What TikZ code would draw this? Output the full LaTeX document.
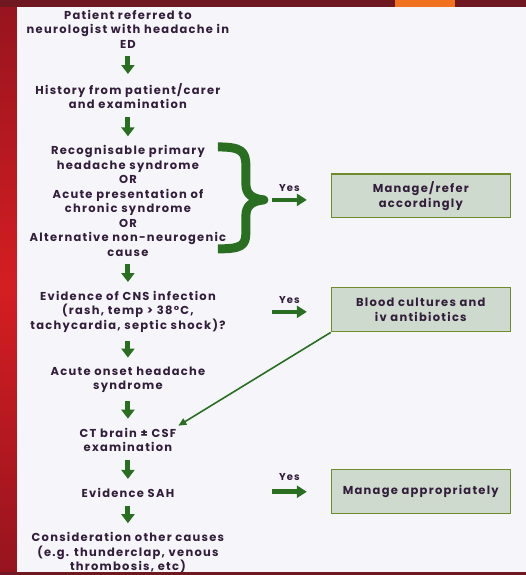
\documentclass[tikz,border=0pt]{standalone}
\usepackage{fontspec}
\setmainfont{Poppins}[LetterSpace=11]
\usepackage{xcolor}
\definecolor{leaf}{RGB}{42,110,34}
\definecolor{ink}{RGB}{50,30,58}
\definecolor{paper}{RGB}{246,246,250}
\definecolor{boxfill}{RGB}{206,218,206}
\definecolor{boxline}{RGB}{112,140,42}
\definecolor{rim}{RGB}{212,30,34}
\definecolor{rimdeep}{RGB}{150,20,30}
\definecolor{rimdark}{RGB}{112,24,34}
\definecolor{rimorange}{RGB}{240,114,30}
\usetikzlibrary{arrows.meta,positioning,calc}
\tikzset{
  stage/.style={font=\fontsize{11.5}{14.5}\selectfont\bfseries,text=ink,align=center,inner sep=2pt},
  action/.style={draw=boxline,fill=boxfill,line width=1.2pt,minimum width=179pt,%
    minimum height=44pt,font=\fontsize{11.5}{14.5}\selectfont\bfseries,text=ink,align=center},
  down/.style={-{Triangle[length=9pt,width=13pt]},line width=5pt,draw=leaf,%
    shorten <=6pt,shorten >=7pt},
  yes/.style={-{Triangle[length=10pt,width=12pt]},line width=4.5pt,draw=leaf},
  link/.style={-{Triangle[length=8pt,width=7pt]},line width=1.6pt,draw=leaf},
  yeslabel/.style={font=\fontsize{10}{11}\selectfont\bfseries,text=ink,above=3pt},
  bracket/.style={draw=leaf,line width=9pt,line join=round},
}

\begin{document}
\begin{tikzpicture}[x=1pt,y=-1pt]
\fill[paper] (0,0) rectangle (526,575);
\node[stage] (p0) at (128,29)  {Patient referred to\\neurologist with headache in\\ED};
\node[stage] (p1) at (128,96)  {History from patient/carer\\and examination};
\node[stage] (p2) at (128,201) {Recognisable primary\\headache syndrome\\OR\\Acute presentation of\\chronic syndrome\\OR\\Alternative non-neurogenic\\cause};
\node[stage] (p3) at (128,312) {Evidence of CNS infection\\(rash, temp > 38°C,\\tachycardia, septic shock)?};
\node[stage] (p4) at (128,380) {Acute onset headache\\syndrome};
\node[stage] (p5) at (128,440) {CT brain ± CSF\\examination};
\node[stage] (p6) at (128,493) {Evidence SAH};
\node[stage] (p7) at (128,553) {Consideration other causes\\(e.g. thunderclap, venous\\thrombosis, etc)};
\node[action] (b1) at (421,196) {Manage/refer\\accordingly};
\node[action] (b2) at (421,310) {Blood cultures and\\iv antibiotics};
\node[action] (b3) at (421,492) {Manage appropriately};
\draw[down] (p0)--(p1);
\draw[down] (p1)--(p2);
\draw[down] (p2)--(p3);
\draw[down] (p3)--(p4);
\draw[down] (p4)--(p5);
\draw[down] (p5)--(p6);
\draw[down] (p6)--(p7);
\draw[bracket] (218,147) .. controls (241,147) and (246,151) .. (246,166) -- (246,184)
  .. controls (246,194) and (252,199) .. (264,200)
  .. controls (252,201) and (246,206) .. (246,216) -- (246,233)
  .. controls (246,246) and (241,249) .. (218,249);
\coordinate (y1s) at (272,200); \coordinate (y1e) at (307,200);
\coordinate (y2s) at (272,312); \coordinate (y2e) at (307,312);
\coordinate (y3s) at (272,492); \coordinate (y3e) at (307,492);
\draw[yes] (y1s)--node[yeslabel]{Yes}(y1e);
\draw[yes] (y2s)--node[yeslabel]{Yes}(y2e);
\draw[yes] (y3s)--node[yeslabel,above=6pt]{Yes}(y3e);
\draw[link] (b2.south west)--(p5.north east);
\shade[top color=rimdeep,bottom color=rimdeep,middle color=rim] (0,0) rectangle (17,575);
\fill[rimdark] (0,0) rectangle (526,7);
\fill[rimorange] (395,0) rectangle (455,7);
\fill[rimdark] (0,572) rectangle (526,575);
\end{tikzpicture}
\end{document}
